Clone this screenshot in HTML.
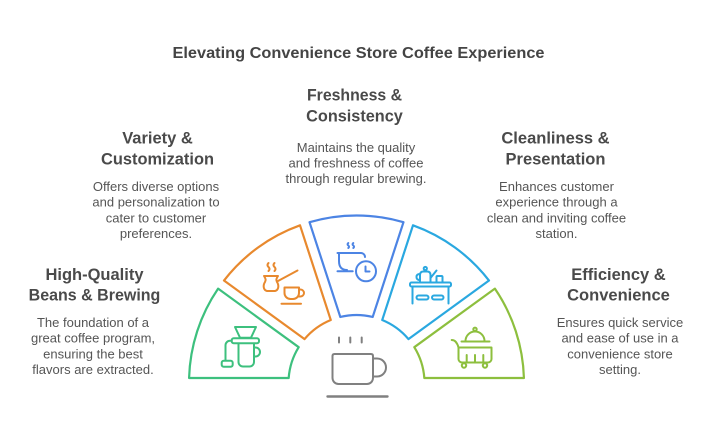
<!DOCTYPE html>
<html><head><meta charset="utf-8"><style>
html,body{margin:0;padding:0;background:#fff;}
svg{display:block;}
.t{font-family:"Liberation Sans",Arial,sans-serif;font-weight:bold;fill:#444;}
.h{font-family:"Liberation Sans",Arial,sans-serif;font-weight:bold;font-size:16.5px;fill:#4a4a4a;}
.d{font-family:"Liberation Sans",Arial,sans-serif;font-size:13px;fill:#555;}
</style></head><body>
<svg width="709" height="442" viewBox="0 0 709 442" xmlns="http://www.w3.org/2000/svg">
<rect width="709" height="442" fill="#fff"/>
<text class="t" x="358.5" y="58" font-size="16" text-anchor="middle" textLength="372" lengthAdjust="spacingAndGlyphs">Elevating Convenience Store Coffee Experience</text>

<!-- center -->
<text class="h" x="354.5" y="100.7" text-anchor="middle" textLength="95" lengthAdjust="spacingAndGlyphs">Freshness &amp;</text>
<text class="h" x="354.5" y="121.7" text-anchor="middle" textLength="96.7" lengthAdjust="spacingAndGlyphs">Consistency</text>
<text class="d" x="356" y="152" text-anchor="middle">Maintains the quality</text>
<text class="d" x="356" y="167.5" text-anchor="middle">and freshness of coffee</text>
<text class="d" x="356" y="183" text-anchor="middle">through regular brewing.</text>

<!-- left top -->
<text class="h" x="157.5" y="143.5" text-anchor="middle" textLength="70.6" lengthAdjust="spacingAndGlyphs">Variety &amp;</text>
<text class="h" x="157.5" y="164.5" text-anchor="middle" textLength="113" lengthAdjust="spacingAndGlyphs">Customization</text>
<text class="d" x="156" y="191" text-anchor="middle">Offers diverse options</text>
<text class="d" x="156" y="206.7" text-anchor="middle">and personalization to</text>
<text class="d" x="156" y="222.3" text-anchor="middle">cater to customer</text>
<text class="d" x="156" y="238" text-anchor="middle">preferences.</text>

<!-- right top -->
<text class="h" x="555.5" y="143.5" text-anchor="middle">Cleanliness &amp;</text>
<text class="h" x="555.5" y="164.5" text-anchor="middle">Presentation</text>
<text class="d" x="556.5" y="191" text-anchor="middle">Enhances customer</text>
<text class="d" x="556.5" y="206.7" text-anchor="middle">experience through a</text>
<text class="d" x="556.5" y="222.3" text-anchor="middle">clean and inviting coffee</text>
<text class="d" x="556.5" y="238" text-anchor="middle">station.</text>

<!-- left bottom -->
<text class="h" x="94.5" y="280" text-anchor="middle" textLength="98" lengthAdjust="spacingAndGlyphs">High-Quality</text>
<text class="h" x="94.5" y="300.5" text-anchor="middle" textLength="131.7" lengthAdjust="spacingAndGlyphs">Beans &amp; Brewing</text>
<text class="d" x="93" y="327" text-anchor="middle">The foundation of a</text>
<text class="d" x="93" y="342.7" text-anchor="middle">great coffee program,</text>
<text class="d" x="93" y="358.3" text-anchor="middle">ensuring the best</text>
<text class="d" x="93" y="374" text-anchor="middle">flavors are extracted.</text>

<!-- right bottom -->
<text class="h" x="618.5" y="280" text-anchor="middle">Efficiency &amp;</text>
<text class="h" x="618.5" y="300.5" text-anchor="middle">Convenience</text>
<text class="d" x="620" y="327" text-anchor="middle">Ensures quick service</text>
<text class="d" x="620" y="342.7" text-anchor="middle">and ease of use in a</text>
<text class="d" x="620" y="358.3" text-anchor="middle">convenience store</text>
<text class="d" x="620" y="374" text-anchor="middle">setting.</text>

<!-- segments -->
<g fill="none" stroke-width="2.2" stroke-linejoin="round">
<path stroke="#3dc07e" d="M218.11 288.63 A167.5 167.5 0 0 0 189.07 378 L288.68 378 A68 68 0 0 1 298.69 347.18 Z"/>
<path stroke="#e8892e" d="M300.01 225.30 A167.5 167.5 0 0 0 223.99 280.54 L304.57 339.09 A68 68 0 0 1 330.79 320.04 Z"/>
<path stroke="#4c84e4" d="M403.48 222.21 A167.5 167.5 0 0 0 309.52 222.21 L340.30 316.95 A68 68 0 0 1 372.70 316.95 Z"/>
<path stroke="#2aa8e0" d="M489.01 280.54 A167.5 167.5 0 0 0 412.99 225.30 L382.21 320.04 A68 68 0 0 1 408.43 339.09 Z"/>
<path stroke="#8dbf3e" d="M523.93 378 A167.5 167.5 0 0 0 494.89 288.63 L414.31 347.18 A68 68 0 0 1 424.32 378 Z"/>
</g>

<!-- center mug -->
<g fill="none" stroke="#808080" stroke-width="2" stroke-linecap="round" stroke-linejoin="round">
<line x1="339" y1="337.5" x2="339" y2="342.5"/>
<line x1="350.3" y1="337.5" x2="350.3" y2="342.5"/>
<line x1="361.7" y1="337.5" x2="361.7" y2="342.5"/>
<path d="M334.5 354 H371 Q373 354 373 356 V378 a6 6 0 0 1 -6 6 H338.5 a6 6 0 0 1 -6 -6 V356 Q332.5 354 334.5 354 Z"/>
<path d="M373 358.5 H377 a9 9 0 0 1 0 18 H373"/>
<line x1="327.5" y1="396.5" x2="387.5" y2="396.5" stroke-width="2.4"/>
</g>

<!-- green icon: pour-over -->
<g fill="none" stroke="#3dc07e" stroke-width="2" stroke-linecap="round" stroke-linejoin="round">
<path d="M235 327 H256 L251 337.7 H240 Z"/>
<rect x="231.7" y="338.3" width="27.3" height="5" rx="2"/>
<path d="M238.5 343.5 V362 a4.5 4.5 0 0 0 4.5 4.5 H249.5 a4.5 4.5 0 0 0 4.5 -4.5 V343.5"/>
<path d="M254 347.5 h1.5 a4.5 4.5 0 0 1 0 9 H254"/>
<path d="M231.7 340.8 H230 a4.5 4.5 0 0 0 -4.5 4.5 V360.5"/>
<rect x="221.7" y="360.7" width="11" height="6" rx="2"/>
</g>

<!-- orange icon: cezve + cup -->
<g fill="none" stroke="#e8892e" stroke-width="2" stroke-linecap="round" stroke-linejoin="round">
<path d="M268.5 263 q-2 2 0 4 q2 2 0 4"/>
<path d="M274.5 263 q-2 2 0 4 q2 2 0 4"/>
<path d="M264 276 L278 276 C276 279 276 280 277 282 C279 285 279 290 275 291 L267 291 C263 290 263 285 265 282 C266 280 266 279 264 276 Z"/>
<line x1="278" y1="281" x2="297.5" y2="270.5"/>
<path d="M284.5 287.5 H299 V293 a6 6 0 0 1 -6 6 H290.5 a6 6 0 0 1 -6 -6 Z"/>
<path d="M299 289.5 h1.5 a3.5 3.5 0 0 1 0 7 H298.5"/>
<line x1="281.5" y1="303.7" x2="301" y2="303.7"/>
</g>

<!-- blue icon: cup + clock -->
<g fill="none" stroke="#4c84e4" stroke-width="2" stroke-linecap="round" stroke-linejoin="round">
<path d="M348.3 243 q-1.5 1.3 0 2.5 q1.5 1.3 0 2.5"/>
<path d="M353.3 243 q-1.5 1.3 0 2.5 q1.5 1.3 0 2.5"/>
<line x1="337.5" y1="253" x2="361" y2="253"/>
<path d="M361 253 a4 4 0 0 1 4 4"/>
<path d="M339 253 V261 Q339 270 347 270"/>
<line x1="337.5" y1="271.3" x2="352.7" y2="271.3"/>
<circle cx="366" cy="271.3" r="10"/>
<path d="M365.5 266.5 V271.5 H369.5"/>
</g>

<!-- light blue icon: coffee station -->
<g fill="none" stroke="#2aa8e0" stroke-width="2" stroke-linecap="round" stroke-linejoin="round">
<rect x="410" y="282.5" width="41" height="4" rx="1.5"/>
<line x1="412.5" y1="286.5" x2="412.5" y2="303.5"/>
<line x1="448.5" y1="286.5" x2="448.5" y2="303.5"/>
<rect x="416.5" y="295.5" width="12" height="4" rx="2"/>
<rect x="432" y="295.5" width="11.5" height="4" rx="2"/>
<path d="M420 282.5 V275 Q420 271.5 423.5 271.5 H427 Q430.5 271.5 430.5 275 V282.5"/>
<circle cx="425.3" cy="268.5" r="1.6"/>
<path d="M430.5 278 L436.5 270.5"/>
<path d="M420 274 q-3.5 0 -3.5 3 q0 2.5 2.5 3"/>
<rect x="436.5" y="276" width="6" height="6.5" rx="1"/>
</g>

<!-- lime icon: cart -->
<g fill="none" stroke="#8dbf3e" stroke-width="2" stroke-linecap="round" stroke-linejoin="round">
<circle cx="475" cy="329.3" r="1.7"/>
<path d="M465.5 341 A9.5 9.5 0 0 1 484.5 341"/>
<line x1="461.5" y1="341.5" x2="489.5" y2="341.5"/>
<path d="M451.7 340 Q456.5 340 458.5 347.5"/>
<path d="M458.5 347.5 H491.5 V359 a3.5 3.5 0 0 1 -3.5 3.5 H462 a3.5 3.5 0 0 1 -3.5 -3.5 Z"/>
<line x1="466.7" y1="355" x2="466.7" y2="362.5"/>
<line x1="475" y1="355" x2="475" y2="362.5"/>
<line x1="483.3" y1="355" x2="483.3" y2="362.5"/>
<circle cx="464" cy="365.5" r="2.2"/>
<circle cx="485" cy="365.5" r="2.2"/>
</g>
</svg>
</body></html>
